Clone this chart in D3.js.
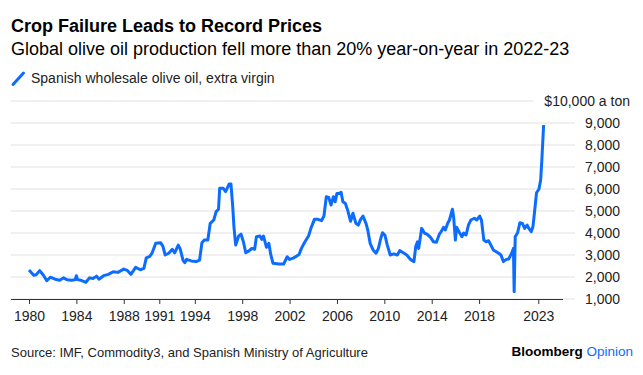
<!DOCTYPE html>
<html>
<head>
<meta charset="utf-8">
<script src="https://cdn.jsdelivr.net/npm/d3@7"></script>
<style>
  body { margin: 0; background: #fff; }
  svg { font-family: "Liberation Sans", Arial, sans-serif; }
</style>
</head>
<body>
<svg id="chart"></svg>
<script>
// data (decimal year, $ a ton)
var years = [
  1980.0, 1980.4, 1980.6, 1980.9, 1981.2, 1981.5, 1981.8, 1982.2, 1982.6, 1982.9,
  1983.2, 1983.6, 1983.9, 1984.0, 1984.1, 1984.4, 1984.8, 1985.1, 1985.4, 1985.7,
  1985.9, 1986.3, 1986.7, 1987.1, 1987.5, 1988.0, 1988.3, 1988.6, 1989.0, 1989.4,
  1989.7, 1989.9, 1990.2, 1990.4, 1990.7, 1991.1, 1991.3, 1991.5, 1991.8, 1992.1,
  1992.3, 1992.6, 1992.75, 1993.0, 1993.15, 1993.3, 1993.7, 1994.1, 1994.4, 1994.6,
  1994.8, 1995.1, 1995.3, 1995.6, 1995.8, 1996.0, 1996.1, 1996.4, 1996.6, 1996.9,
  1997.05, 1997.2, 1997.3, 1997.45, 1997.7, 1997.9, 1998.1, 1998.3, 1998.6, 1998.8,
  1999.05, 1999.2, 1999.5, 1999.65, 1999.8, 2000.05, 2000.25, 2000.4, 2000.6, 2001.1,
  2001.5, 2001.8, 2002.0, 2002.3, 2002.6, 2002.8, 2003.0, 2003.3, 2003.6, 2003.8,
  2004.1, 2004.4, 2004.7, 2004.9, 2005.1, 2005.3, 2005.5, 2005.7, 2005.85, 2006.0,
  2006.2, 2006.35, 2006.5, 2006.7, 2006.9, 2007.15, 2007.35, 2007.6, 2007.8, 2008.0,
  2008.2, 2008.45, 2008.6, 2008.8, 2009.05, 2009.3, 2009.5, 2009.7, 2009.85, 2010.05,
  2010.25, 2010.5, 2010.8, 2011.1, 2011.3, 2011.6, 2011.9, 2012.2, 2012.5, 2012.65,
  2012.8, 2012.9, 2013.15, 2013.4, 2013.6, 2013.9, 2014.15, 2014.4, 2014.65, 2014.8,
  2015.0, 2015.15, 2015.35, 2015.5, 2015.75, 2015.85, 2016.0, 2016.1, 2016.35, 2016.55,
  2016.7, 2016.9, 2017.1, 2017.3, 2017.6, 2017.8, 2018.05, 2018.2, 2018.4, 2018.6,
  2018.8, 2019.0, 2019.2, 2019.45, 2019.65, 2019.85, 2020.05, 2020.3, 2020.5, 2020.75,
  2020.9, 2020.96, 2021.05, 2021.25, 2021.45, 2021.65, 2021.85, 2022.05, 2022.2, 2022.4,
  2022.55, 2022.7, 2022.85, 2023.05, 2023.2, 2023.3, 2023.45
];
var prices = [
  2320, 2080, 2100, 2290, 2090, 1830, 1990, 1900, 1850, 1960,
  1880, 1850, 1870, 2060, 1880, 1850, 1760, 1960, 1930, 2040,
  1900, 2060, 2120, 2240, 2210, 2360, 2300, 2120, 2440, 2330,
  2390, 2870, 2940, 3100, 3530, 3560, 3400, 3000, 3080, 3260,
  3100, 3450, 3300, 2770, 2650, 2800, 2730, 2700, 2770, 3560,
  3680, 3680, 4440, 4590, 4970, 5080, 6030, 6030, 5880, 6230,
  6230, 5200, 4290, 3450, 3860, 3950, 3600, 3100, 3200, 3300,
  3260, 3830, 3860, 3710, 3860, 3350, 3530, 3050, 2620, 2590,
  2590, 2920, 2800, 2860, 2950, 3020, 3300, 3600, 3860, 4210,
  4620, 4620, 4560, 4770, 5650, 5620, 5270, 5650, 5420, 5800,
  5800, 5850, 5420, 5350, 5050, 4530, 4900, 4440, 4360, 4620,
  4770, 4440, 4140, 3530, 3230, 3080, 3300, 3760, 4010, 3900,
  3450, 3000, 3050, 3000, 3200, 3100, 3000, 2800, 2700, 3380,
  3600, 3300, 4210, 3990, 3950, 3800, 3600, 3580, 3950, 4060,
  4260, 4140, 4440, 4590, 5080, 4740, 3680, 4260, 4010, 3830,
  4000, 3910, 4360, 4590, 4670, 4590, 4770, 4590, 3680, 3600,
  3650, 3450, 3230, 3150, 3080, 3000, 2700, 2800, 2820, 3080,
  3300, 1330, 3830, 4010, 4470, 4440, 4210, 4360, 4210, 4060,
  4290, 5050, 5830, 5990, 6410, 7320, 8910
];
var tickYears = [1980, 1984, 1988, 1991, 1994, 1998, 2002, 2006, 2010, 2014, 2018, 2023];
var priceTicks = [1000, 2000, 3000, 4000, 5000, 6000, 7000, 8000, 9000];
var topTick = 10000;

var W = 643, H = 375;
var blue = "#0b6cff";

var svg = d3.select("#chart").attr("width", W).attr("height", H);

// year as decimal -> Date
function toDate(y) {
  var yr = Math.floor(y);
  var start = new Date(yr, 0, 1), end = new Date(yr + 1, 0, 1);
  return new Date(+start + (y - yr) * (end - start));
}

var x = d3.scaleTime()
    .domain([toDate(1980), toDate(2023)])
    .range([29, 538.3]);
var y = d3.scaleLinear()
    .domain([1000, 10000])
    .range([299, 101]);

// titles
svg.append("text").attr("x", 11).attr("y", 32)
    .style("font-size", "18px").style("font-weight", "bold").attr("fill", "#000")
    .text("Crop Failure Leads to Record Prices");
svg.append("text").attr("x", 11).attr("y", 54.5)
    .style("font-size", "18px").attr("fill", "#000")
    .text("Global olive oil production fell more than 20% year-on-year in 2022-23");

// legend
svg.append("line")
    .attr("x1", 13).attr("y1", 84.5).attr("x2", 23.5).attr("y2", 73)
    .attr("stroke", blue).attr("stroke-width", 3).attr("stroke-linecap", "round");
svg.append("text").attr("x", 31).attr("y", 83)
    .style("font-size", "14px").attr("fill", "#222")
    .text("Spanish wholesale olive oil, extra virgin");

// gridlines
svg.append("g").selectAll("line")
    .data(priceTicks)
    .join("line")
      .attr("x1", 11).attr("x2", 575)
      .attr("y1", d => y(d)).attr("y2", d => y(d))
      .attr("stroke", "#ebebeb").attr("stroke-width", 1.5);
svg.append("line")
    .attr("x1", 11).attr("x2", 533)
    .attr("y1", y(topTick)).attr("y2", y(topTick))
    .attr("stroke", "#ebebeb").attr("stroke-width", 1.5);

// y labels
svg.append("g").selectAll("text")
    .data(priceTicks)
    .join("text")
      .attr("x", 585).attr("y", d => y(d) + 5)
      .style("font-size", "14px").attr("fill", "#222")
      .text(d => d3.format(",")(d));
svg.append("text")
    .attr("x", 630).attr("y", y(topTick) + 5)
    .attr("text-anchor", "end")
    .style("font-size", "14px").attr("fill", "#222")
    .text("$" + d3.format(",")(topTick) + " a ton");

// x axis
var xAxis = svg.append("g")
    .attr("transform", "translate(0," + y(1000) + ")")
    .call(d3.axisBottom(x)
        .tickValues(tickYears.map(toDate))
        .tickFormat(d3.timeFormat("%Y"))
        .tickSize(5)
        .tickSizeOuter(0)
        .tickPadding(7));
xAxis.select(".domain")
    .attr("d", "M11,0.5H563")
    .attr("stroke", "#333");
xAxis.selectAll(".tick line").attr("stroke", "#333");
xAxis.selectAll(".tick text")
    .style("font-size", "14px")
    .style("font-family", "'Liberation Sans', Arial, sans-serif")
    .attr("fill", "#222");

// price line
var line = d3.line()
    .x(d => x(toDate(d[0])))
    .y(d => y(d[1]));
svg.append("path")
    .datum(d3.zip(years, prices))
    .attr("fill", "none")
    .attr("stroke", blue)
    .attr("stroke-width", 3)
    .attr("stroke-linejoin", "round")
    .attr("d", line);

// footer
svg.append("text").attr("x", 11).attr("y", 357)
    .style("font-size", "13px").attr("fill", "#222")
    .text("Source: IMF, Commodity3, and Spanish Ministry of Agriculture");
var brand = svg.append("text").attr("x", 633).attr("y", 356)
    .attr("text-anchor", "end")
    .style("font-size", "13.5px").style("font-weight", "bold");
brand.append("tspan").attr("fill", "#000").text("Bloomberg ");
brand.append("tspan").attr("fill", blue).style("font-weight", "normal").text("Opinion");
</script>
</body>
</html>
